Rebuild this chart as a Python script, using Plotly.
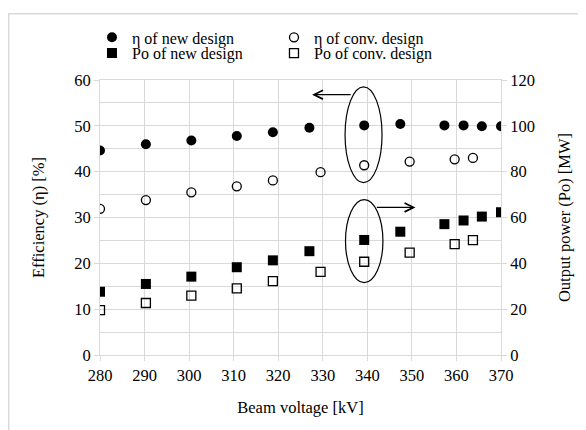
import plotly.graph_objects as go

# Data
v_eta_new = [280, 290.3, 300.5, 310.7, 318.8, 327.0, 339.3, 347.4, 357.3, 361.6, 365.7, 370.0]
eta_new = [44.6, 46.0, 46.8, 47.8, 48.6, 49.6, 50.1, 50.4, 50.1, 50.1, 49.9, 49.9]
po_new = [27.6, 31.0, 34.2, 38.3, 41.3, 45.3, 50.2, 53.8, 57.1, 58.7, 60.4, 62.3]

v_conv = [280, 290.3, 300.5, 310.7, 318.8, 329.5, 339.3, 349.5, 359.6, 363.7]
eta_conv = [31.9, 33.8, 35.5, 36.8, 38.1, 39.9, 41.4, 42.2, 42.7, 43.0]
po_conv = [19.6, 22.7, 25.9, 29.1, 32.2, 36.3, 40.7, 44.7, 48.4, 50.1]

x_ticks = [280, 290, 300, 310, 320, 330, 340, 350, 360, 370]

FONT = "Liberation Serif"
FS = 16.5
LFS = 16
GRID = "#d9d9d9"

fig = go.Figure()
fig.add_trace(go.Scatter(x=v_eta_new, y=eta_new, mode="markers", name="η of new design",
                         marker=dict(symbol="circle", size=10, color="black"), yaxis="y",
                         legend="legend"))
fig.add_trace(go.Scatter(x=v_conv, y=eta_conv, mode="markers", name="η of conv. design",
                         marker=dict(symbol="circle-open", size=9, color="black", line=dict(width=1.3)),
                         yaxis="y", legend="legend"))
fig.add_trace(go.Scatter(x=v_eta_new, y=po_new, mode="markers", name="Po of new design",
                         marker=dict(symbol="square", size=10, color="black"), yaxis="y2",
                         legend="legend2"))
fig.add_trace(go.Scatter(x=v_conv, y=po_conv, mode="markers", name="Po of conv. design",
                         marker=dict(symbol="square-open", size=9, color="black", line=dict(width=1.3)),
                         yaxis="y2", legend="legend2"))

# Ellipses around the 340 kV points
fig.add_shape(type="circle", xref="x", yref="y", x0=335.0, x1=343.3, y0=37.6, y1=58.5,
              line=dict(color="black", width=1.2))
fig.add_shape(type="circle", xref="x", yref="y", x0=335.1, x1=343.5, y0=15.8, y1=33.9,
              line=dict(color="black", width=1.2))

# Arrows
fig.add_annotation(x=327.6, y=56.8, ax=336.6, ay=56.8, xref="x", yref="y", axref="x", ayref="y",
                   text="", showarrow=True, arrowhead=5, arrowsize=1.6, arrowwidth=1.1, arrowcolor="black")
fig.add_annotation(x=350.8, y=32.2, ax=341.8, ay=32.2, xref="x", yref="y", axref="x", ayref="y",
                   text="", showarrow=True, arrowhead=5, arrowsize=1.6, arrowwidth=1.1, arrowcolor="black")

# Outer chart frame (left & top edges visible)
fig.add_shape(type="rect", xref="paper", yref="paper", x0=-0.2277, x1=1.4, y0=-0.4, y1=1.241,
              line=dict(color=GRID, width=1.5), layer="below")

legend_common = dict(orientation="h", xanchor="left", yanchor="middle",
                     entrywidth=137, entrywidthmode="pixels", font=dict(family=FONT, size=LFS),
                     itemwidth=30, bgcolor="rgba(0,0,0,0)")

fig.update_layout(
    width=586, height=430,
    margin=dict(l=92, r=93, t=69, b=83),
    paper_bgcolor="white", plot_bgcolor="white",
    font=dict(family=FONT, size=FS, color="black"),
    showlegend=True,
    legend=dict(x=-0.02, y=1.155, **legend_common),
    legend2=dict(x=-0.02, y=1.0975, **legend_common),
    xaxis=dict(range=[280, 370], tickvals=x_ticks, showgrid=True, gridcolor=GRID, gridwidth=1,
               ticks="outside", ticklen=5, tickcolor=GRID, zeroline=False,
               showline=True, linecolor=GRID, mirror=True,
               title=dict(text="Beam voltage [kV]", font=dict(family=FONT, size=FS), standoff=17),
               tickfont=dict(family=FONT, size=FS)),
    yaxis=dict(range=[0, 60], dtick=10, showgrid=True, gridcolor=GRID, gridwidth=1,
               minor=dict(dtick=5, showgrid=True, gridcolor=GRID, gridwidth=1),
               ticks="outside", ticklen=5, tickcolor=GRID, zeroline=False,
               showline=True, linecolor=GRID,
               title=dict(text="Efficiency (η) [%]", font=dict(family=FONT, size=FS), standoff=25),
               tickfont=dict(family=FONT, size=FS)),
    yaxis2=dict(range=[0, 120], dtick=20, overlaying="y", side="right", showgrid=False,
                ticks="outside", ticklen=5, tickcolor=GRID, zeroline=False,
                showline=True, linecolor=GRID,
                title=dict(text="Output power (Po) [MW]", font=dict(family=FONT, size=FS), standoff=24),
                tickfont=dict(family=FONT, size=FS)),
)

fig.write_html("out.html")
